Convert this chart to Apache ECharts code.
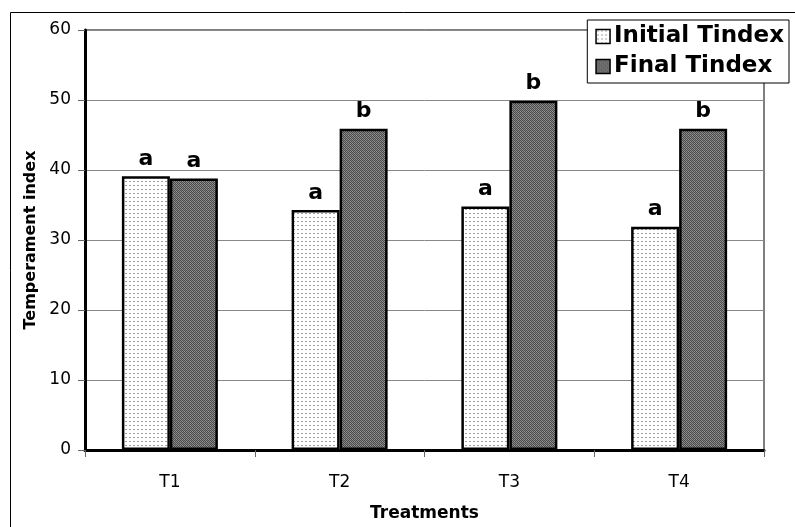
<!DOCTYPE html>
<html>
<head>
<meta charset="utf-8">
<script src="https://cdn.jsdelivr.net/npm/echarts@6/dist/echarts.min.js"></script>
<style>html,body{margin:0;padding:0;background:#fff;}#c{width:795px;height:527px;}</style>
</head>
<body>
<div id="c"></div>
<script>
const categories = ['T1', 'T2', 'T3', 'T4'];
const initialValues = [39.1, 34.3, 34.8, 31.9];
const finalValues = [38.8, 45.9, 49.9, 45.9];
const initialLetters = ['a', 'a', 'a', 'a'];
const finalLetters = ['a', 'b', 'b', 'b'];
const yTicks = [0, 10, 20, 30, 40, 50, 60];

function makeDots() {
  const c = document.createElement('canvas');
  c.width = 4; c.height = 4;
  const g = c.getContext('2d');
  g.fillStyle = '#ffffff'; g.fillRect(0, 0, 4, 4);
  g.fillStyle = '#a0a0a0'; g.fillRect(1, 1, 2, 1);
  return c;
}
function makeDark() {
  const c = document.createElement('canvas');
  c.width = 4; c.height = 4;
  const g = c.getContext('2d');
  const px = [
    ['#4a4a4a', '#8c8c8c', '#4a4a4a', '#7a7a7a'],
    ['#8c8c8c', '#4a4a4a', '#9a9a9a', '#4a4a4a'],
    ['#4a4a4a', '#7a7a7a', '#4a4a4a', '#8c8c8c'],
    ['#9a9a9a', '#4a4a4a', '#8c8c8c', '#4a4a4a']
  ];
  for (let y = 0; y < 4; y++) for (let x = 0; x < 4; x++) { g.fillStyle = px[y][x]; g.fillRect(x, y, 1, 1); }
  return c;
}
const dots = makeDots();
const dark = makeDark();
const FONT = 'DejaVu Sans, Liberation Sans, Arial';

const chart = echarts.init(document.getElementById('c'), null, { renderer: 'canvas' });
const labelStyle = { show: true, position: 'top', distance: 6, color: '#000', fontFamily: FONT, fontWeight: 'bold', fontSize: 22 };
chart.setOption({
  animation: false,
  backgroundColor: '#fff',
  graphic: [{ type: 'rect', shape: { x: 10.5, y: 12.5, width: 800, height: 540 }, style: { fill: 'none', stroke: '#000', lineWidth: 1 }, z: -1 }],
  grid: { left: 85, top: 30, right: 31, bottom: 75, show: true, borderColor: '#000', borderWidth: 1, backgroundColor: 'transparent' },
  legend: {
    right: 6, top: 20, orient: 'vertical', itemGap: 7, itemWidth: 14, itemHeight: 14,
    backgroundColor: '#fff', borderColor: '#000', borderWidth: 1, padding: [5, 5, 5, 8],
    textStyle: { fontFamily: FONT, fontWeight: 'bold', fontSize: 23, color: '#000', padding: [0, 0, 0, -1] },
    data: [
      { name: 'Initial Tindex', icon: 'rect', itemStyle: { color: { image: dots, repeat: 'repeat' }, borderColor: '#000', borderWidth: 1.5 } },
      { name: 'Final Tindex', icon: 'rect', itemStyle: { color: { image: dark, repeat: 'repeat' }, borderColor: '#000', borderWidth: 1.5 } }
    ]
  },
  xAxis: {
    type: 'category', data: categories,
    name: 'Treatments', nameLocation: 'middle', nameGap: 55,
    nameTextStyle: { fontFamily: FONT, fontWeight: 'bold', fontSize: 17, color: '#000' },
    axisLine: { lineStyle: { color: '#000', width: 3 } },
    axisTick: { show: true, length: 7, lineStyle: { color: '#666', width: 1 } },
    axisLabel: { fontFamily: FONT, fontSize: 17, color: '#000', margin: 24 }
  },
  yAxis: {
    type: 'value', min: yTicks[0], max: yTicks[yTicks.length - 1], interval: 10,
    name: 'Temperament index', nameLocation: 'middle', nameGap: 46,
    nameTextStyle: { fontFamily: FONT, fontWeight: 'bold', fontSize: 16, color: '#000' },
    axisLine: { show: true, lineStyle: { color: '#000', width: 3 } },
    axisTick: { show: true, length: 7, lineStyle: { color: '#666', width: 1 } },
    axisLabel: { fontFamily: FONT, fontSize: 17, color: '#000', margin: 14 },
    splitLine: { lineStyle: { color: '#888', width: 1 } }
  },
  series: [
    {
      name: 'Initial Tindex', type: 'bar', data: initialValues, barWidth: 48, barGap: '0%',
      itemStyle: { color: { image: dots, repeat: 'repeat' }, borderColor: '#000', borderWidth: 2.5 },
      label: Object.assign({}, labelStyle, { formatter: p => initialLetters[p.dataIndex] })
    },
    {
      name: 'Final Tindex', type: 'bar', data: finalValues, barWidth: 48, barGap: '0%',
      itemStyle: { color: { image: dark, repeat: 'repeat' }, borderColor: '#000', borderWidth: 2.5 },
      label: Object.assign({}, labelStyle, { formatter: p => finalLetters[p.dataIndex] })
    }
  ]
});
</script>
</body>
</html>
